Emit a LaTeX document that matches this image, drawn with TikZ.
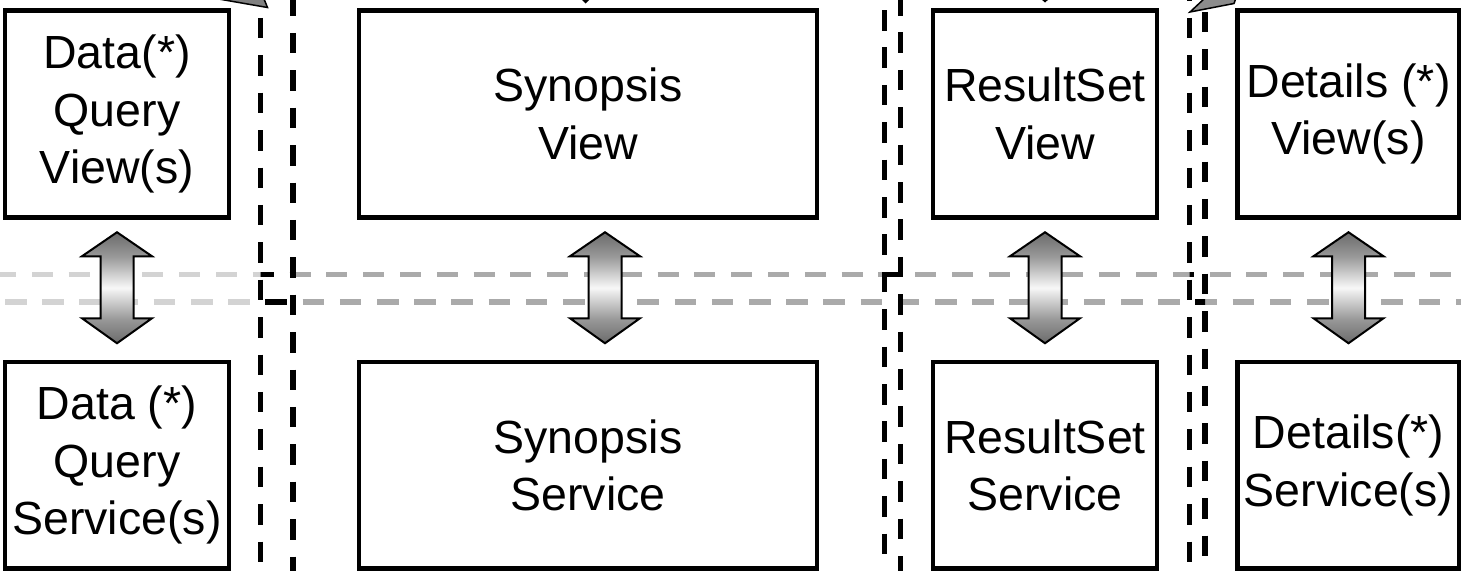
\documentclass[tikz,border=0pt]{standalone}
\usepackage{fontspec}
\setmainfont{Liberation Sans}
\usetikzlibrary{calc}

% vertical fill of the double arrows: dark heads, light middle of the shaft
\pgfdeclareverticalshading{arrowshade}{100bp}{%
  color(0bp)=(black!58); color(25bp)=(black!58); color(36bp)=(black!40);
  color(50bp)=(black!3); color(64bp)=(black!40); color(75bp)=(black!58);
  color(100bp)=(black!58)}

\definecolor{tierlight}{HTML}{D3D3D3}
\definecolor{tierdark}{HTML}{AAAAAA}

\tikzset{
  box/.style={draw=black, line width=4.8pt, rectangle, align=center,
    inner sep=0pt, font=\fontsize{46.5}{57.5}\selectfont},
  viewbox/.style={box, minimum height=207pt},
  servbox/.style={box, minimum height=206.5pt},
  lane/.style={line width=5.5pt, dash pattern=on 20.5pt off 16.9pt},
  tierA/.style={line width=5.5pt, dash pattern=on 21pt off 15.8pt},
  tierB/.style={line width=5.5pt, dash pattern=on 21.5pt off 15.7pt},
  dblarrow/.pic={
    \shadedraw[shading=arrowshade, draw=black, line width=2pt]
      (0,-55.5) -- (35,-31.5) -- (16.5,-31.5) -- (16.5,30.5) -- (35,30.5)
      -- (0,55.5) -- (-35,30.5) -- (-16.5,30.5) -- (-16.5,-31.5)
      -- (-35,-31.5) -- cycle;
  }
}

\begin{document}
\begin{tikzpicture}[x=1pt, y=-1pt]
\useasboundingbox (0,0) rectangle (1461,570);
\clip (0,0) rectangle (1461,570);

% tier boundaries (horizontal), dark gray everywhere by default
\draw[tierA, tierdark] (-4.8,274.5) -- (1470,274.5);
\draw[tierB, tierdark] (-32.2,302) -- (1470,302);
% light gray left of the first lane pair
\begin{scope}
  \clip (-10,250) rectangle (260.5,330);
  \draw[tierA, tierlight] (-4.8,274.5) -- (1470,274.5);
  \draw[tierB, tierlight] (-32.2,302) -- (1470,302);
\end{scope}
% black inside each lane pair
\begin{scope}
  \clip (260.5,250) rectangle (293,330)
        (884.5,250) rectangle (900.5,330)
        (1189.5,250) rectangle (1205,330);
  \draw[tierA, black] (-4.8,274.5) -- (1470,274.5);
  \draw[tierB, black] (-32.2,302) -- (1470,302);
\end{scope}

% lane separators (vertical pairs)
\draw[lane] (260.5,-19.5) -- (260.5,590);
\draw[lane] (293,-4.5) -- (293,590);
\draw[lane] (884.5,10) -- (884.5,590);
\draw[lane] (900.5,-5) -- (900.5,590);
\draw[lane] (1189.5,-19.5) -- (1189.5,590);
\draw[lane] (1205,-25.5) -- (1205,590);

% arrow ends entering from above
\filldraw[fill=black!50, draw=black, line width=1.5pt]
  (190,-6) -- (267.5,7.5) -- (262,-6) -- cycle;
\filldraw[fill=black!45, draw=black, line width=1.5pt]
  (1190,12) -- (1205,-2) -- (1236,-2) -- (1234,3.5) -- cycle;
\fill (581,-1) -- (590,-1) -- (585.5,3.5) -- cycle;
\fill (1041,-1) -- (1049,-1) -- (1045,2.5) -- cycle;

% views
\node[viewbox, minimum width=224pt] (dqv) at (117,114) {Data(*)\\Query\\View(s)};
\node[viewbox, minimum width=458pt] (sv) at (588,114) {Synopsis\\View};
\node[viewbox, minimum width=224pt] (rv) at (1045,114) {ResultSet\\View};
\node[viewbox, minimum width=222pt] (dv) at (1348.5,114) {Details (*)\\View(s)};

% services
\node[servbox, minimum width=224pt] (dqs) at (117,465.25) {Data (*)\\Query\\Service(s)};
\node[servbox, minimum width=458pt] (ss) at (588,465.25) {Synopsis\\Service};
\node[servbox, minimum width=224pt] (rs) at (1045,465.25) {ResultSet\\Service};
\node[servbox, minimum width=222pt] (ds) at (1348.5,465.25) {Details(*)\\Service(s)};

% view <-> service links
\pic at ($(dqv.south)!0.5!(dqs.north)+(0,-2)$) {dblarrow};
\pic at ($(sv.south)!0.5!(ss.north)+(17,-2)$) {dblarrow};
\pic at ($(rv.south)!0.5!(rs.north)+(0,-2)$) {dblarrow};
\pic at ($(dv.south)!0.5!(ds.north)+(0,-2)$) {dblarrow};
\end{tikzpicture}
\end{document}
